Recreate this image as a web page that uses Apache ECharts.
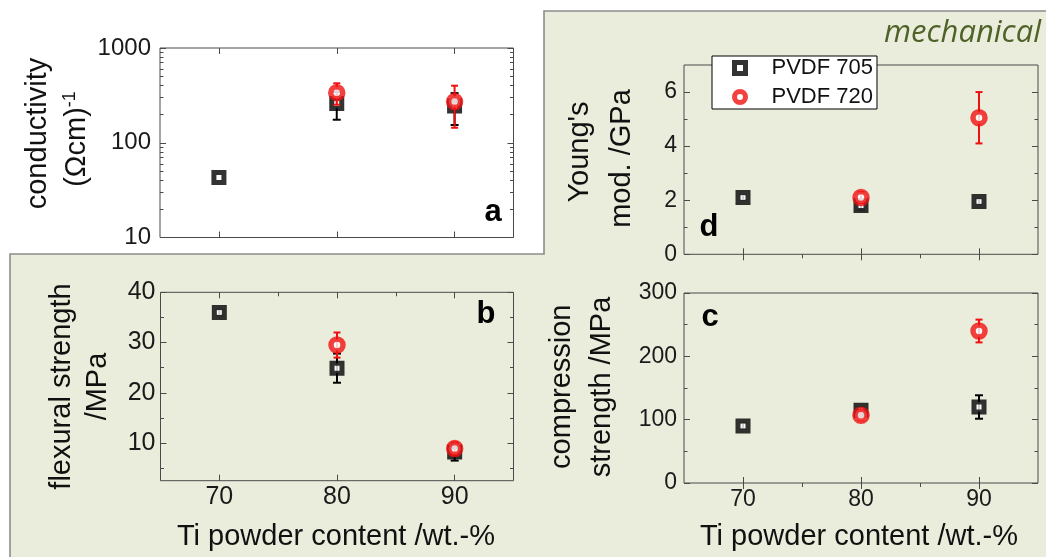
<!DOCTYPE html>
<html>
<head>
<meta charset="utf-8">
<script src="https://cdn.jsdelivr.net/npm/echarts@6/dist/echarts.min.js"></script>
<style>
html,body{margin:0;padding:0;background:#fff;}
#chart{width:1046px;height:557px;}
</style>
</head>
<body>
<div id="chart"></div>
<script>
// ---------- data ----------
const tiContent = [70, 80, 90];
const xTickLabels = [70, 80, 90];
const xMinorTicks = [75, 85];

// a: conductivity (Ωcm)^-1
const condPVDF705 = [43, 260, 244];
const condPVDF705Err = [0, 85, 90];
const condPVDF720 = [null, 338, 272];
const condPVDF720Err = [null, 86, 128];
const condTicks = [10, 100, 1000];
const condMinorTicks = [20, 30, 40, 50, 60, 70, 80, 90, 200, 300, 400, 500, 600, 700, 800, 900];

// b: flexural strength /MPa
const flexPVDF705 = [36, 24.9, 8.2];
const flexPVDF705Err = [0.6, 2.9, 1.7];
const flexPVDF720 = [null, 29.5, 8.9];
const flexPVDF720Err = [null, 2.5, 1.2];
const flexTicks = [10, 20, 30, 40];
const flexMinorTicks = [5, 15, 25, 35];

// d: Young's modulus /GPa
const youngPVDF705 = [2.1, 1.8, 1.95];
const youngPVDF705Err = [0.1, 0.15, 0.1];
const youngPVDF720 = [null, 2.1, 5.05];
const youngPVDF720Err = [null, 0.2, 0.95];
const youngTicks = [0, 2, 4, 6];
const youngMinorTicks = [1, 3, 5];

// c: compression strength /MPa
const compPVDF705 = [90, 115, 120];
const compPVDF705Err = [5, 5, 18.5];
const compPVDF720 = [null, 107, 240];
const compPVDF720Err = [null, 8, 18];
const compTicks = [0, 100, 200, 300];
const compMinorTicks = [50, 150, 250];

// ---------- styling ----------
const FONT = '"Liberation Sans", Arial, sans-serif';
const FRAME = '#4a4a4a';
const LABEL = '#1a1a1a';
const RED = '#f01010';
const GREEN_BG = '#eaeddc';

const chart = echarts.init(document.getElementById('chart'), null, {renderer: 'canvas'});

const grids = [
  {left: 160, top: 48, width: 353.5, height: 189.5, show: true, backgroundColor: '#fff', borderColor: FRAME, borderWidth: 1, outerBoundsMode: 'none'},
  {left: 160.5, top: 292.3, width: 353, height: 188.4, show: true, backgroundColor: 'transparent', borderColor: FRAME, borderWidth: 1, outerBoundsMode: 'none'},
  {left: 684, top: 65, width: 354, height: 189.3, show: true, backgroundColor: 'transparent', borderColor: FRAME, borderWidth: 1, outerBoundsMode: 'none'},
  {left: 684, top: 293, width: 354, height: 190, show: true, backgroundColor: 'transparent', borderColor: FRAME, borderWidth: 1, outerBoundsMode: 'none'}
];

const xAxes = [];
const yAxes = [];

function tickAxisBase(g, type, min, max, pos) {
  return {gridIndex: g, type: type, min: min, max: max, position: pos,
    axisLine: {show: false}, splitLine: {show: false}, minorTick: {show: false},
    axisPointer: {show: false}};
}
function plainNumber(v) { return String(Math.round(v * 1000) / 1000); }

function buildAxes(g, cfg) {
  const xi = xAxes.length, yi = yAxes.length;
  const xb = tickAxisBase(g, 'value', 65, 95, 'bottom');
  xb.axisTick = {show: true, inside: true, length: 6, customValues: xTickLabels, lineStyle: {color: FRAME, width: 1}};
  xb.axisLabel = {show: cfg.xLabels, customValues: xTickLabels, fontSize: cfg.labelSize, fontFamily: FONT, color: LABEL, margin: cfg.xLabelMargin, formatter: plainNumber};
  xAxes.push(xb);
  const xt = tickAxisBase(g, 'value', 65, 95, 'top');
  xt.axisTick = {show: true, inside: true, length: 6, customValues: xTickLabels, lineStyle: {color: FRAME, width: 1}};
  xt.axisLabel = {show: false};
  xAxes.push(xt);
  if (cfg.xTopMinor) {
    const xm = tickAxisBase(g, 'value', 65, 95, 'top');
    xm.axisTick = {show: true, inside: true, length: 4, customValues: xMinorTicks, lineStyle: {color: FRAME, width: 1}};
    xm.axisLabel = {show: false};
    xAxes.push(xm);
  }
  const yl = tickAxisBase(g, cfg.yType, cfg.yMin, cfg.yMax, 'left');
  if (cfg.yType === 'log') yl.logBase = 10;
  yl.axisTick = {show: true, inside: true, length: 6, customValues: cfg.yMajor, lineStyle: {color: FRAME, width: 1}};
  yl.axisLabel = {show: true, customValues: cfg.yMajor, fontSize: cfg.labelSize, fontFamily: FONT, color: LABEL, margin: cfg.yLabelMargin, formatter: plainNumber};
  yAxes.push(yl);
  const sides = [['left', cfg.yMinor, 3.5], ['right', cfg.yMajor, 6], ['right', cfg.yMinor, 3.5]];
  sides.forEach(function (s) {
    const ya = tickAxisBase(g, cfg.yType, cfg.yMin, cfg.yMax, s[0]);
    if (cfg.yType === 'log') ya.logBase = 10;
    ya.axisTick = {show: true, inside: true, length: s[2], customValues: s[1], lineStyle: {color: FRAME, width: 1}};
    ya.axisLabel = {show: false};
    yAxes.push(ya);
  });
  return {xi: xi, yi: yi};
}

const axA = buildAxes(0, {yType: 'log', yMin: 10, yMax: 1000, yMajor: condTicks, yMinor: condMinorTicks, xLabels: false, xTopMinor: false, labelSize: 24, yLabelMargin: 9, xLabelMargin: 5});
const axB = buildAxes(1, {yType: 'value', yMin: 2.5, yMax: 40, yMajor: flexTicks, yMinor: flexMinorTicks, xLabels: true, xTopMinor: true, labelSize: 25, yLabelMargin: 5, xLabelMargin: 4});
const axD = buildAxes(2, {yType: 'value', yMin: 0, yMax: 7, yMajor: youngTicks, yMinor: youngMinorTicks, xLabels: false, xTopMinor: true, labelSize: 23, yLabelMargin: 7, xLabelMargin: 5});
const axC = buildAxes(3, {yType: 'value', yMin: 0, yMax: 300, yMajor: compTicks, yMinor: compMinorTicks, xLabels: true, xTopMinor: true, labelSize: 23, yLabelMargin: 7, xLabelMargin: 5});

function pts(vals) {
  const out = [];
  vals.forEach(function (v, i) { if (v !== null) out.push([tiContent[i], v]); });
  return out;
}
function errPts(vals, errs) {
  const out = [];
  vals.forEach(function (v, i) { if (v !== null && errs[i]) out.push([tiContent[i], v, errs[i]]); });
  return out;
}
function errRender(color, cap, w) {
  return function (params, api) {
    const x = api.value(0), v = api.value(1), e = api.value(2);
    const top = api.coord([x, v + e]);
    const bot = api.coord([x, v - e]);
    const st = {stroke: color, lineWidth: w};
    return {type: 'group', children: [
      {type: 'line', shape: {x1: top[0], y1: top[1], x2: bot[0], y2: bot[1]}, style: st},
      {type: 'line', shape: {x1: top[0] - cap, y1: top[1], x2: top[0] + cap, y2: top[1]}, style: st},
      {type: 'line', shape: {x1: bot[0] - cap, y1: bot[1], x2: bot[0] + cap, y2: bot[1]}, style: st}
    ]};
  };
}

const series = [];
function addPanel(ax, v705, e705, v720, e720) {
  series.push({type: 'custom', xAxisIndex: ax.xi, yAxisIndex: ax.yi, renderItem: errRender('#000', 4, 2),
    data: errPts(v705, e705), encode: {x: 0, y: 1}, z: 2, silent: true, clip: false});
  series.push({type: 'scatter', name: 'PVDF 705', xAxisIndex: ax.xi, yAxisIndex: ax.yi, data: pts(v705),
    symbol: 'rect', symbolSize: 10, itemStyle: {color: '#fff', borderColor: '#000', borderWidth: 5}, z: 3, silent: true});
  series.push({type: 'custom', xAxisIndex: ax.xi, yAxisIndex: ax.yi, renderItem: errRender(RED, 3.5, 2),
    data: errPts(v720, e720), encode: {x: 0, y: 1}, z: 4, silent: true, clip: false});
  series.push({type: 'scatter', name: 'PVDF 720', xAxisIndex: ax.xi, yAxisIndex: ax.yi, data: pts(v720),
    symbol: 'circle', symbolSize: 12, itemStyle: {color: '#fff', borderColor: RED, borderWidth: 5.5}, z: 5, silent: true});
}
addPanel(axA, condPVDF705, condPVDF705Err, condPVDF720, condPVDF720Err);
addPanel(axB, flexPVDF705, flexPVDF705Err, flexPVDF720, flexPVDF720Err);
addPanel(axD, youngPVDF705, youngPVDF705Err, youngPVDF720, youngPVDF720Err);
addPanel(axC, compPVDF705, compPVDF705Err, compPVDF720, compPVDF720Err);

function vText(x, y, text, size, extra) {
  const t = {type: 'text', x: x, y: y, rotation: Math.PI / 2, z: 50, silent: true,
    style: {text: text, fontSize: size, fontFamily: FONT, fill: '#111', align: 'center', verticalAlign: 'middle'}};
  if (extra) Object.assign(t.style, extra);
  return t;
}
function hText(x, y, text, size, extra) {
  const t = {type: 'text', x: x, y: y, z: 50, silent: true,
    style: {text: text, fontSize: size, fontFamily: FONT, fill: '#111', align: 'center', verticalAlign: 'middle'}};
  if (extra) Object.assign(t.style, extra);
  return t;
}

const graphics = [
  {type: 'polygon', z: -10, silent: true,
    shape: {points: [[10, 254], [544, 254], [544, 11], [1052, 11], [1052, 562], [10, 562]]},
    style: {fill: GREEN_BG, stroke: '#8d8d8d', lineWidth: 1.6}},
  // y axis titles
  vText(38, 133.5, 'conductivity', 29),
  vText(77, 139, '{n|(Ωcm)}{s|-1}', 29, {rich: {n: {fontSize: 29, fontFamily: FONT, fill: '#111', lineHeight: 32}, s: {fontSize: 18, fontFamily: FONT, fill: '#111', verticalAlign: 'top', lineHeight: 18}}}),
  vText(62, 386.5, 'flexural strength', 29),
  vText(98, 386.5, '/MPa', 29),
  vText(580, 152, "Young's", 29),
  vText(622, 158.5, 'mod. /GPa', 29),
  vText(562, 386.7, 'compression', 29),
  vText(602, 387, 'strength /MPa', 29),
  // x axis titles
  hText(336, 537, 'Ti powder content /wt.-%', 29),
  hText(859, 537, 'Ti powder content /wt.-%', 29),
  // panel letters
  hText(493, 212.5, 'a', 31, {fontWeight: 'bold', fill: '#000'}),
  hText(486, 314.3, 'b', 31, {fontWeight: 'bold', fill: '#000'}),
  hText(710, 317.6, 'c', 31, {fontWeight: 'bold', fill: '#000'}),
  hText(709, 227.6, 'd', 31, {fontWeight: 'bold', fill: '#000'}),
  // section label
  {type: 'text', x: 1041, y: 33, z: 50, silent: true,
    style: {text: 'mechanical', fontSize: 31, fontFamily: '"Open Sans", sans-serif', fontStyle: 'italic', fill: '#4f6228', align: 'right', verticalAlign: 'middle'}}
];

const option = {
  animation: false,
  backgroundColor: '#fff',
  grid: grids,
  xAxis: xAxes,
  yAxis: yAxes,
  legend: {
    show: true, orient: 'vertical', left: 712, top: 56,
    backgroundColor: '#fff', borderColor: '#000', borderWidth: 1,
    padding: [1, 4, 1, 20], itemWidth: 11, itemHeight: 11, itemGap: 7,
    selectedMode: false, z: 60,
    textStyle: {fontSize: 22, lineHeight: 22, fontFamily: FONT, color: '#111', padding: [0, 0, 0, 21]},
    data: [
      {name: 'PVDF 705', icon: 'rect', itemStyle: {color: '#fff', borderColor: '#000', borderWidth: 5}},
      {name: 'PVDF 720', icon: 'circle', itemStyle: {color: '#fff', borderColor: RED, borderWidth: 5}}
    ]
  },
  graphic: {elements: graphics},
  series: series
};
chart.setOption(option);
</script>
</body>
</html>
